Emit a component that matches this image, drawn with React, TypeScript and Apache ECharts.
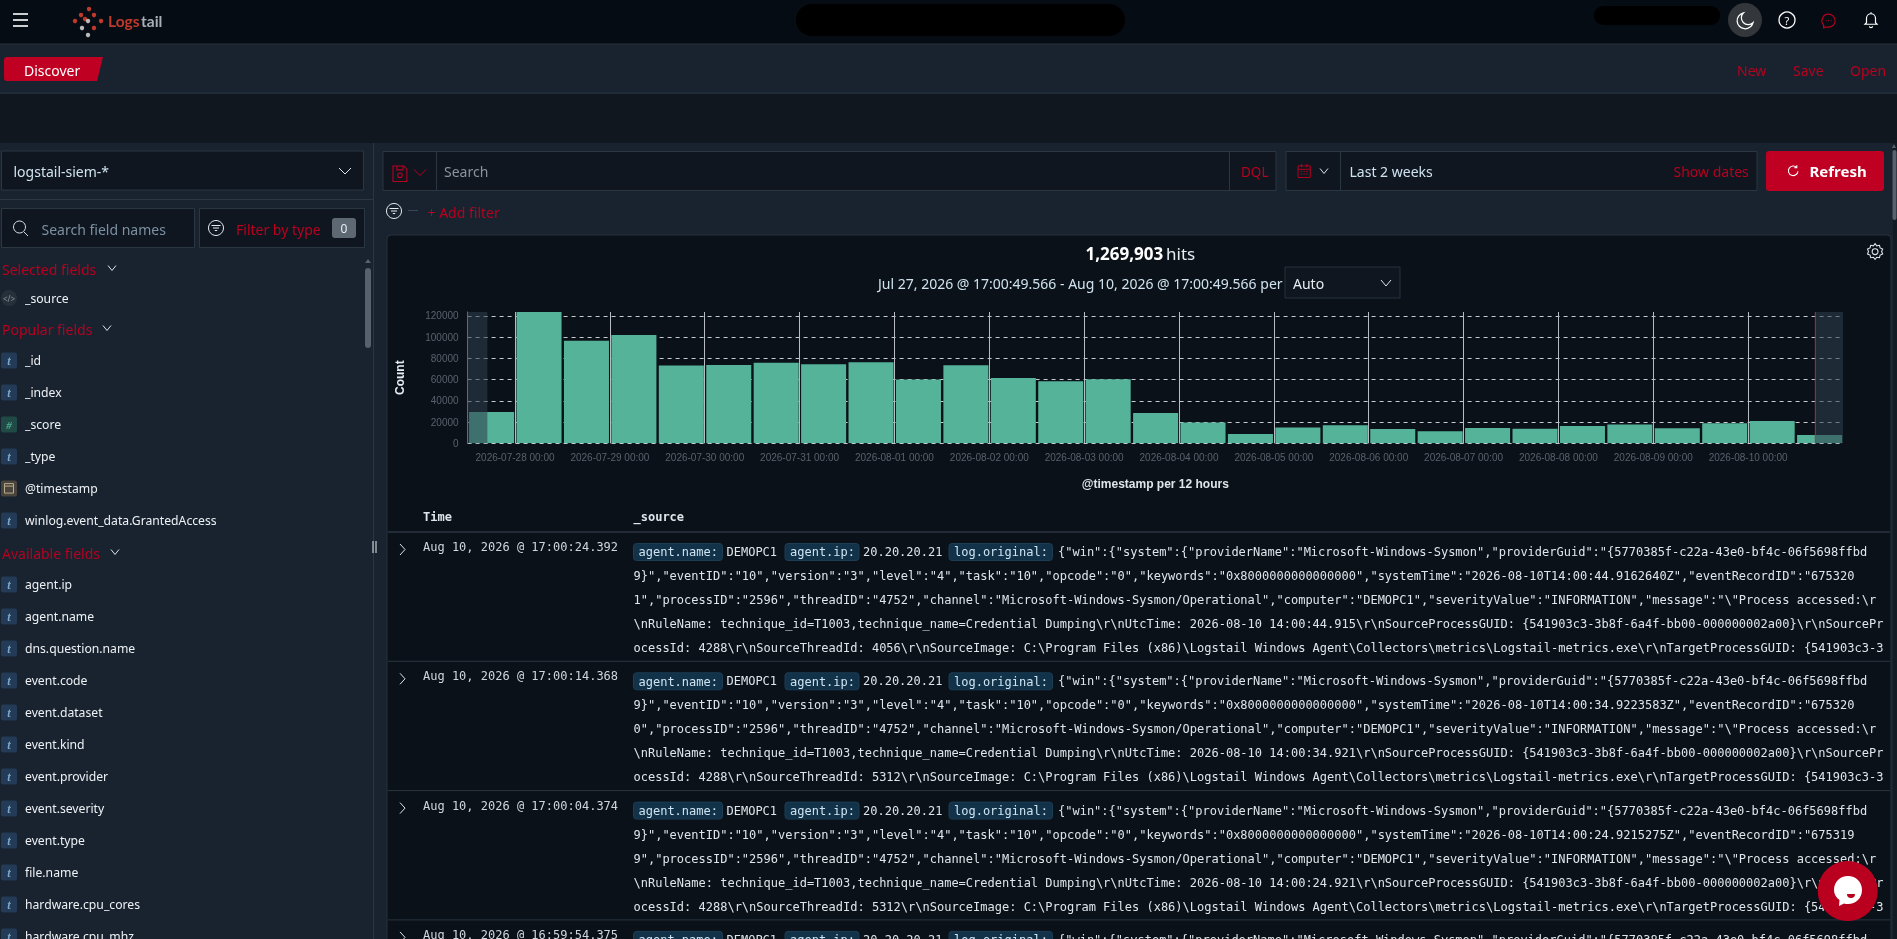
import React, { useEffect, useRef } from "react";
import * as echarts from "echarts";

// ---------- data ----------
const bucketStarts = [
  "2026-07-27 12:00","2026-07-28 00:00","2026-07-28 12:00","2026-07-29 00:00","2026-07-29 12:00","2026-07-30 00:00",
  "2026-07-30 12:00","2026-07-31 00:00","2026-07-31 12:00","2026-08-01 00:00","2026-08-01 12:00","2026-08-02 00:00",
  "2026-08-02 12:00","2026-08-03 00:00","2026-08-03 12:00","2026-08-04 00:00","2026-08-04 12:00","2026-08-05 00:00",
  "2026-08-05 12:00","2026-08-06 00:00","2026-08-06 12:00","2026-08-07 00:00","2026-08-07 12:00","2026-08-08 00:00",
  "2026-08-08 12:00","2026-08-09 00:00","2026-08-09 12:00","2026-08-10 00:00","2026-08-10 12:00",
];
const bucketCounts = [
  29500,123700,96700,102000,73200,73800,76000,74400,76300,60000,73500,61500,58400,60300,28600,
  19500,8800,15000,17000,13500,11300,14400,13800,16300,17600,14100,18800,21000,7900,
];
const rangeStart = "2026-07-27 17:00";
const rangeEnd = "2026-08-10 17:00";
const axisStart = "2026-07-27 12:00";
const axisEnd = "2026-08-11 00:00";

const selectedFields = ["_source"];
const popularFields = ["_id","_index","_score","_type","@timestamp","winlog.event_data.GrantedAccess"];
const availableFields = ["agent.ip","agent.name","dns.question.name","event.code","event.dataset","event.kind","event.provider","event.severity","event.type","file.name","hardware.cpu_cores","hardware.cpu_mhz"];
const fieldKinds: Record<string,string> = { "_source":"src", "_score":"num", "@timestamp":"date" };

const rowTimes = ["Aug 10, 2026 @ 17:00:24.392","Aug 10, 2026 @ 17:00:14.368","Aug 10, 2026 @ 17:00:04.374","Aug 10, 2026 @ 16:59:54.375"];
const firstLineJson = '{"win":{"system":{"providerName":"Microsoft-Windows-Sysmon","providerGuid":"{5770385f-c22a-43e0-bf4c-06f5698ffbd';
const rowLines = [
  [
    '9}","eventID":"10","version":"3","level":"4","task":"10","opcode":"0","keywords":"0x8000000000000000","systemTime":"2026-08-10T14:00:44.9162640Z","eventRecordID":"675320',
    '1","processID":"2596","threadID":"4752","channel":"Microsoft-Windows-Sysmon/Operational","computer":"DEMOPC1","severityValue":"INFORMATION","message":"\\"Process accessed:\\r',
    '\\nRuleName: technique_id=T1003,technique_name=Credential Dumping\\r\\nUtcTime: 2026-08-10 14:00:44.915\\r\\nSourceProcessGUID: {541903c3-3b8f-6a4f-bb00-000000002a00}\\r\\nSourcePr',
    'ocessId: 4288\\r\\nSourceThreadId: 4056\\r\\nSourceImage: C:\\Program Files (x86)\\Logstail Windows Agent\\Collectors\\metrics\\Logstail-metrics.exe\\r\\nTargetProcessGUID: {541903c3-3',
  ],
  [
    '9}","eventID":"10","version":"3","level":"4","task":"10","opcode":"0","keywords":"0x8000000000000000","systemTime":"2026-08-10T14:00:34.9223583Z","eventRecordID":"675320',
    '0","processID":"2596","threadID":"4752","channel":"Microsoft-Windows-Sysmon/Operational","computer":"DEMOPC1","severityValue":"INFORMATION","message":"\\"Process accessed:\\r',
    '\\nRuleName: technique_id=T1003,technique_name=Credential Dumping\\r\\nUtcTime: 2026-08-10 14:00:34.921\\r\\nSourceProcessGUID: {541903c3-3b8f-6a4f-bb00-000000002a00}\\r\\nSourcePr',
    'ocessId: 4288\\r\\nSourceThreadId: 5312\\r\\nSourceImage: C:\\Program Files (x86)\\Logstail Windows Agent\\Collectors\\metrics\\Logstail-metrics.exe\\r\\nTargetProcessGUID: {541903c3-3',
  ],
  [
    '9}","eventID":"10","version":"3","level":"4","task":"10","opcode":"0","keywords":"0x8000000000000000","systemTime":"2026-08-10T14:00:24.9215275Z","eventRecordID":"675319',
    '9","processID":"2596","threadID":"4752","channel":"Microsoft-Windows-Sysmon/Operational","computer":"DEMOPC1","severityValue":"INFORMATION","message":"\\"Process accessed:\\r',
    '\\nRuleName: technique_id=T1003,technique_name=Credential Dumping\\r\\nUtcTime: 2026-08-10 14:00:24.921\\r\\nSourceProcessGUID: {541903c3-3b8f-6a4f-bb00-000000002a00}\\r\\nSourcePr',
    'ocessId: 4288\\r\\nSourceThreadId: 5312\\r\\nSourceImage: C:\\Program Files (x86)\\Logstail Windows Agent\\Collectors\\metrics\\Logstail-metrics.exe\\r\\nTargetProcessGUID: {541903c3-3',
  ],
];

// hourly categories so that bucket edges and the time range fall on exact axis positions
function buildHours(from: string, to: string): string[] {
  const p = (s: string) => { const [d, t] = s.split(" "); const [Y, M, D] = d.split("-").map(Number); return Date.UTC(Y, M - 1, D, parseInt(t)); };
  const out: string[] = [];
  const two = (n: number) => String(n).padStart(2, "0");
  for (let t = p(from); t <= p(to); t += 3600000) {
    const d = new Date(t);
    out.push(`${d.getUTCFullYear()}-${two(d.getUTCMonth() + 1)}-${two(d.getUTCDate())} ${two(d.getUTCHours())}:00`);
  }
  return out;
}
const hours = buildHours(axisStart, axisEnd);
const isDayTick = (i: number) => hours[i].endsWith("00:00") && i < hours.length - 1;

// ---------- palette ----------
const RED = "#b9001f";
const PANEL = "#18232f";
const DARK = "#0a1119";
const INPUT = "#0f1620";
const BORDER = "#2a3743";
const SANS = "Noto Sans";
const MONO = "DejaVu Sans Mono";

// ---------- icon shapes ----------
const shapes: Record<string, string> = {
  moonIcon: "M20 14.5A8.5 8.5 0 1 1 10 4a7 7 0 0 0 10 10.5z",
  bellIcon: "M6 17V11a6 6 0 0 1 12 0v6l2 2H4zM10 21.5a2 2 0 0 0 4 0M12 3v2",
  chatIcon: "M12 3a9 9 0 0 1 0 18H6l-1 2v-5A9 9 0 0 1 12 3zM8 12h1M11.500 12h1M15 12h1",
  gearIcon: "M12 2.5l2 2.5 3.2-.6.8 3.1 3 1.3-1.2 3 1.2 3-3 1.3-.8 3.1-3.2-.6-2 2.5-2-2.5-3.2.6-.8-3.1-3-1.3 1.2-3-1.2-3 3-1.3.8-3.1 3.2.6zM12 8.5a3.5 3.5 0 1 0 0 7 3.5 3.5 0 0 0 0-7z",
  refreshIcon: "M18 6a8 8 0 1 0 2 6M18 2v4h-4",
  saveIcon: "M3 2h14l4 4v16H3zM8 2v5h8V2M12 11a3 3 0 1 0 0 6 3 3 0 0 0 0-6z",
  calendarIcon: "M3 5h18v17H3zM3 10h18M8 2v5M16 2v5M7 13h2M11 13h2M15 13h2M7 17h2M11 17h2M15 17h2",
  bubbleIcon: "M0 14C0 6 6 0 14 0s14 6 14 14-6 14-14 14c-1.500 0-3-.2-4-.6L5 30l.5-6C2 21.500 0 18 0 14z",
};
Object.entries(shapes).forEach(([k, d]) => {
  echarts.graphic.registerShape(k, (echarts.graphic as any).extendPath(d, {}));
});

// ---------- ui helpers ----------
type El = Record<string, any>;
const Z = -10;
const rect = (x: number, y: number, w: number, h: number, fill: string, r = 0, stroke?: string): El => ({
  type: "rect", z: Z, silent: true, shape: { x, y, width: w, height: h, r },
  style: { fill, stroke: stroke || "none", lineWidth: stroke ? 1 : 0 },
});
const txt = (x: number, y: number, text: string, fill: string, fontSize = 14, fontFamily = SANS, fontWeight: any = "normal", align = "left", fontStyle = "normal"): El => ({
  type: "text", z: Z, silent: true,
  style: { x, y, text, fill, fontSize, fontFamily, fontWeight, fontStyle, align, textAlign: align, verticalAlign: "middle", textVerticalAlign: "middle" },
});
const seg = (x1: number, y1: number, x2: number, y2: number, stroke: string, lineWidth = 1): El => ({
  type: "line", z: Z, silent: true, shape: { x1, y1, x2, y2 }, style: { stroke, lineWidth },
});
const chevron = (x: number, y: number, stroke = "#dfe5ea", w = 5, h = 3): El => ({
  type: "polyline", z: Z, silent: true,
  shape: { points: [[x - w, y - h], [x, y + h], [x + w, y - h]] }, style: { stroke, lineWidth: 1, fill: "none" },
});
const circle = (cx: number, cy: number, r: number, fill: string, stroke?: string, lineWidth = 1): El => ({
  type: "circle", z: Z, silent: true, shape: { cx, cy, r }, style: { fill, stroke: stroke || "none", lineWidth: stroke ? lineWidth : 0 },
});
const icon = (type: string, x: number, y: number, s: number, stroke: string, fill = "none", lw = 1.3): El => ({
  type, z: Z, silent: true, x, y, scaleX: s, scaleY: s, style: { stroke, fill, lineWidth: lw },
});
const filterIcon = (cx: number, cy: number): El[] => [
  circle(cx, cy, 7.5, "none", "#e8edf2", 1),
  seg(cx - 4.5, cy - 2.5, cx + 4.5, cy - 2.5, "#e8edf2"),
  seg(cx - 3, cy, cx + 3, cy, "#e8edf2"),
  seg(cx - 1.2, cy + 2.5, cx + 1.2, cy + 2.5, "#e8edf2"),
];

function fieldRow(name: string, y: number): El[] {
  const kind = fieldKinds[name] || "str";
  const out: El[] = [];
  if (kind === "src") {
    out.push(circle(9, y, 8, "#26303a"));
    out.push(txt(9, y, "</>", "#8a939c", 8, SANS, "normal", "center"));
  } else if (kind === "num") {
    out.push(rect(1, y - 8, 16, 16, "#1f4a45", 2));
    out.push(txt(9, y, "#", "#4fae92", 11, "Liberation Serif", "bold", "center", "italic"));
  } else if (kind === "date") {
    out.push(rect(1, y - 8, 16, 16, "#4a453c", 2));
    out.push(rect(4.5, y - 5, 9, 9.5, "none", 0, "#b8aa8c"));
    out.push(seg(4.5, y - 2.5, 13.5, y - 2.5, "#b8aa8c"));
  } else {
    out.push(rect(1, y - 8, 16, 16, "#233b57", 2));
    out.push(txt(9, y, "t", "#7da6cc", 12, "Liberation Serif", "bold", "center", "italic"));
  }
  out.push(txt(25, y, name, "#eef2f5", 12.2));
  return out;
}

function sectionHeader(label: string, y: number, chevX: number): El[] {
  return [txt(2, y, label, RED, 14), chevron(chevX, y - 1, "#dfe5ea", 4, 2.5)];
}

function tag(x: number, w: number, y: number, label: string): El[] {
  return [
    rect(x, y, w, 17, "#113249", 3, "#1c3d54"),
    txt(x + 5, y + 8.8, label, "#cfe4f2", 12, MONO),
  ];
}

function buildChrome(): El[] {
  const e: El[] = [];
  // page bands
  e.push(rect(0, 0, 1897, 939, PANEL));
  e.push(rect(0, 0, 1897, 44, "#060c14"));
  e.push(seg(0, 44, 1897, 44, "#27323d"));
  e.push(seg(0, 93, 1897, 93, "#2b3742"));
  e.push(rect(0, 94, 1897, 49, "#10171f"));

  // top bar
  [14, 20, 26].forEach((y) => e.push(seg(13, y, 28, y, "#ffffff", 1.6)));
  const logoRed = [[89,9],[81,15],[94,15],[75,21],[85,19],[101,21],[94,28]];
  const logoGrey = [[88,21],[82,28],[88,35]];
  logoRed.forEach(([x, y]) => e.push(circle(x, y, 2.2, "#c0392b")));
  logoGrey.forEach(([x, y]) => e.push(circle(x, y, 2.2, "#b9b9b9")));
  e.push(txt(108, 21, "Logs", "#c0392b", 15.5, "Lato", "bold"));
  e.push(txt(141, 21, "tail", "#a9b0b5", 15.5, "Lato", "bold"));
  e.push(rect(796, 4, 329, 32, "#000000", 16));
  e.push(rect(1594, 6, 126, 19, "#000000", 9));
  e.push({ type: "ellipse", z: Z, silent: true, shape: { cx: 1745, cy: 20, rx: 17, ry: 17 }, style: { fill: "#33373b" } });
  e.push(icon("moonIcon", 1734, 9, 0.95, "#ffffff"));
  e.push(circle(1787, 20, 8, "none", "#ffffff", 1.3));
  e.push(txt(1787, 20, "?", "#ffffff", 11, SANS, "normal", "center"));
  e.push(icon("chatIcon", 1820, 12, 0.72, RED, "none", 1.6));
  e.push(icon("bellIcon", 1862, 10, 0.75, "#ffffff", "none", 1.6));

  // breadcrumb bar
  e.push({ type: "polygon", z: Z, silent: true, shape: { points: [[6, 57], [103, 57], [97, 81], [6, 81]] }, style: { fill: "#bf0022" } });
  e.push(rect(4, 57, 8, 24, "#bf0022", 3));
  e.push(txt(24, 70, "Discover", "#ffffff", 14));
  e.push(txt(1737, 70, "New", RED));
  e.push(txt(1793, 70, "Save", RED));
  e.push(txt(1850, 70, "Open", RED));

  // sidebar
  e.push(rect(1.5, 151, 362, 39, INPUT, 0, BORDER));
  e.push(txt(13.5, 171, "logstail-siem-*", "#cfe3ef"));
  e.push(chevron(345, 171, "#dfe5ea", 6, 3));
  e.push(seg(0, 199.5, 373, 199.5, BORDER));
  e.push(rect(1.5, 208.5, 193, 39, INPUT, 0, BORDER));
  e.push(circle(19.5, 227, 6, "none", "#d8e0e6", 1));
  e.push(seg(24, 232, 28, 236, "#d8e0e6"));
  e.push(txt(41.5, 229, "Search field names", "#7c90a2"));
  e.push(rect(199.5, 208.5, 165, 39, INPUT, 0, BORDER));
  e.push(...filterIcon(216, 228));
  e.push(txt(236, 229, "Filter by type", RED));
  e.push(rect(332, 218, 24, 20, "#5d6873", 3));
  e.push(txt(344, 228, "0", "#e8edf2", 12, SANS, "normal", "center"));

  e.push(...sectionHeader("Selected fields", 269, 112));
  selectedFields.forEach((f) => e.push(...fieldRow(f, 298)));
  e.push(...sectionHeader("Popular fields", 329, 107));
  popularFields.forEach((f, i) => e.push(...fieldRow(f, 360.6 + i * 32)));
  e.push(...sectionHeader("Available fields", 553, 115));
  availableFields.forEach((f, i) => e.push(...fieldRow(f, 584.6 + i * 32)));
  e.push(rect(365, 268, 6, 80, "#56616d", 3));
  e.push({ type: "polygon", z: Z, silent: true, shape: { points: [[365, 263], [371, 263], [368, 259]] }, style: { fill: "#56616d" } });
  e.push(seg(373.5, 143, 373.5, 939, "#2a3641"));
  e.push(seg(373, 541, 373, 553, "#e8edf2"));
  e.push(seg(376, 541, 376, 553, "#e8edf2"));

  // query bar
  e.push(rect(383, 151.5, 893, 39, INPUT, 0, BORDER));
  e.push(seg(436.5, 151.5, 436.5, 190.5, BORDER));
  e.push(icon("saveIcon", 390.7, 164.5, 0.77, RED, "none", 1.4));
  e.push(chevron(420, 172.5, RED, 6, 3));
  e.push(txt(444, 171, "Search", "#8b949e"));
  e.push(seg(1229.5, 151.5, 1229.5, 190.5, BORDER));
  e.push(txt(1241, 172, "DQL", RED, 13.5));
  e.push(rect(1286, 151.5, 471, 39, INPUT, 0, BORDER));
  e.push(seg(1340.5, 151.5, 1340.5, 190.5, BORDER));
  e.push(icon("calendarIcon", 1296, 162.5, 0.68, RED, "none", 1.4));
  e.push(chevron(1324, 171, "#dfe5ea", 4, 2.5));
  e.push(txt(1349.5, 171, "Last 2 weeks", "#cfe3ef"));
  e.push(txt(1673.5, 171, "Show dates", RED));
  e.push(rect(1766, 151, 118, 40, "#bf0022", 3));
  e.push(icon("refreshIcon", 1786, 164, 0.6, "#ffffff", "none", 1.8));
  e.push(txt(1809.5, 171, "Refresh", "#ffffff", 15, SANS, "bold"));
  e.push(...filterIcon(394, 211));
  e.push(seg(408, 210.5, 418, 210.5, "#3a4653"));
  e.push(txt(427.5, 212, "+ Add filter", RED));

  // results card
  e.push(rect(387, 235, 1504, 720, DARK, 4, "#26323d"));
  e.push(rect(1893, 143, 4, 796, "#121a23"));
  e.push(rect(1892.5, 150, 4, 70, "#56616d", 2));
  e.push({ type: "polygon", z: Z, silent: true, shape: { points: [[1892, 148], [1896, 148], [1894, 144]] }, style: { fill: "#56616d" } });

  e.push(txt(1085.5, 253, "1,269,903", "#ffffff", 17, SANS, "bold"));
  e.push(txt(1166, 253, "hits", "#e8edf2", 17));
  e.push(txt(878, 283, "Jul 27, 2026 @ 17:00:49.566 - Aug 10, 2026 @ 17:00:49.566 per", "#cfe3ef"));
  e.push(rect(1285, 267, 115, 31, INPUT, 0, "#26323d"));
  e.push(txt(1293, 283, "Auto", "#e8edf2"));
  e.push(chevron(1386, 283, "#dfe5ea", 5, 3));
  e.push(icon("gearIcon", 1865, 241.6, 0.84, "#dfe5ea", "none", 1.3));

  // table
  e.push(txt(423, 516.5, "Time", "#dfe5ea", 12, MONO, "bold"));
  e.push(txt(633.5, 516.5, "_source", "#dfe5ea", 12, MONO, "bold"));
  e.push(seg(388, 532, 1890, 532, "#2a3540"));
  const rowTop = (i: number) => 532 + i * 129.3;
  rowTimes.forEach((t, i) => {
    const base = rowTop(i);
    const lineY = base + 20;
    e.push(seg(388, base, 1890, base, "#2a3540"));
    e.push({ type: "polyline", z: Z, silent: true, shape: { points: [[400, base + 12], [405, base + 17.5], [400, base + 23]] }, style: { stroke: "#dfe5ea", lineWidth: 1, fill: "none" } });
    e.push(txt(423, base + 15, t, "#cfd6dc", 12, MONO));
    e.push(...tag(633.5, 89, base + 11.5, "agent.name:"));
    e.push(txt(726.5, lineY, "DEMOPC1", "#dfe5ea", 12, MONO));
    e.push(...tag(785, 74, base + 11.5, "agent.ip:"));
    e.push(txt(863, lineY, "20.20.20.21", "#dfe5ea", 12, MONO));
    e.push(...tag(949, 103.5, base + 11.5, "log.original:"));
    e.push(txt(1058, lineY, firstLineJson, "#dfe5ea", 12, MONO));
    (rowLines[i] || []).forEach((l, j) => e.push(txt(633.5, lineY + 24 * (j + 1), l, "#dfe5ea", 12, MONO)));
  });

  // floating chat bubble
  e.push(circle(1847.7, 891, 30, "#b9001f"));
  e.push(icon("bubbleIcon", 1834, 876, 1, "none", "#ffffff", 0));
  e.push({ type: "sector", z: Z, silent: true, shape: { cx: 1851, cy: 894, r0: 0, r: 4, startAngle: 0, endAngle: Math.PI }, style: { fill: "#b9001f" } });
  return e;
}

// ---------- chart ----------
function buildOption(): any {
  const barData = bucketStarts.map((s, i) => [hours.indexOf(s), bucketCounts[i]]);
  const rangeData = [
    [hours.indexOf(axisStart), hours.indexOf(rangeStart)],
    [hours.indexOf(rangeEnd), hours.indexOf(axisEnd)],
  ];
  return {
    animation: false,
    backgroundColor: "transparent",
    textStyle: { fontFamily: "Liberation Sans" },
    graphic: { elements: buildChrome() },
    grid: { left: 467.6, right: 54, top: 312, height: 131.3, containLabel: false },
    xAxis: {
      type: "category",
      data: hours,
      boundaryGap: false,
      name: "@timestamp per 12 hours",
      nameLocation: "middle",
      nameGap: 35,
      nameTextStyle: { color: "#dfe5ea", fontWeight: "bold", fontSize: 12, fontFamily: "Liberation Sans" },
      axisLine: { show: false },
      axisTick: { show: false },
      axisLabel: {
        interval: (i: number) => isDayTick(i),
        color: "#59626c",
        fontSize: 10,
        margin: 9,
        hideOverlap: false,
        fontFamily: "Liberation Sans",
      },
      splitLine: { show: true, interval: (i: number) => isDayTick(i), lineStyle: { color: "#b8bcc2", width: 1, type: "solid" } },
    },
    yAxis: {
      type: "value",
      min: 0,
      max: 123700,
      interval: 20000,
      name: "Count",
      nameLocation: "middle",
      nameRotate: 90,
      nameGap: 62,
      nameTextStyle: { color: "#e8edf2", fontWeight: "bold", fontSize: 12, fontFamily: "Liberation Sans" },
      axisLine: { show: true, lineStyle: { color: "#6f7780", width: 1 } },
      axisTick: { show: false },
      axisLabel: {
        color: "#59626c",
        fontSize: 10,
        margin: 9,
        fontFamily: "Liberation Sans",
        showMaxLabel: false,
        formatter: (v: number) => (v % 20000 === 0 ? String(v) : ""),
      },
      splitLine: { show: true, showMaxLine: false, lineStyle: { color: "#c8ccd0", width: 1, type: [4, 4] } },
    },
    series: [
      {
        type: "custom",
        name: "Count",
        z: 3,
        clip: true,
        silent: true,
        encode: { x: 0, y: 1 },
        data: barData,
        renderItem: (_p: any, api: any) => {
          const start = api.value(0);
          const tl = api.coord([start, api.value(1)]);
          const br = api.coord([start + 12, 0]);
          return {
            type: "rect",
            shape: { x: tl[0] + 1.5, y: tl[1], width: br[0] - tl[0] - 2.4, height: br[1] - tl[1] },
            style: { fill: "#55b399" },
          };
        },
      },
      {
        type: "custom",
        name: "Outside selected range",
        z: 5,
        silent: true,
        encode: { x: [0, 1] },
        data: rangeData,
        renderItem: (p: any, api: any) => {
          const a = api.coord([api.value(0), 0]);
          const b = api.coord([api.value(1), 0]);
          const cs = p.coordSys;
          const rectEl = {
            type: "rect",
            shape: { x: a[0], y: cs.y, width: b[0] - a[0], height: cs.height },
            style: { fill: "rgba(45,63,78,0.57)" },
          };
          if (p.dataIndex === 0) return rectEl;
          return {
            type: "group",
            children: [
              rectEl,
              { type: "line", shape: { x1: a[0], y1: cs.y, x2: a[0], y2: cs.y + cs.height }, style: { stroke: "#a8323f", lineWidth: 1 } },
            ],
          };
        },
      },
    ],
  };
}

export default function App() {
  const ref = useRef<HTMLDivElement>(null);
  useEffect(() => {
    document.body.style.margin = "0";
    document.body.style.background = PANEL;
    document.body.style.overflow = "hidden";
    const chart = echarts.init(ref.current!, undefined, { renderer: "svg" });
    chart.setOption(buildOption());
    return () => chart.dispose();
  }, []);
  return <div ref={ref} style={{ position: "fixed", left: 0, top: 0, width: 1897, height: 939 }} />;
}
